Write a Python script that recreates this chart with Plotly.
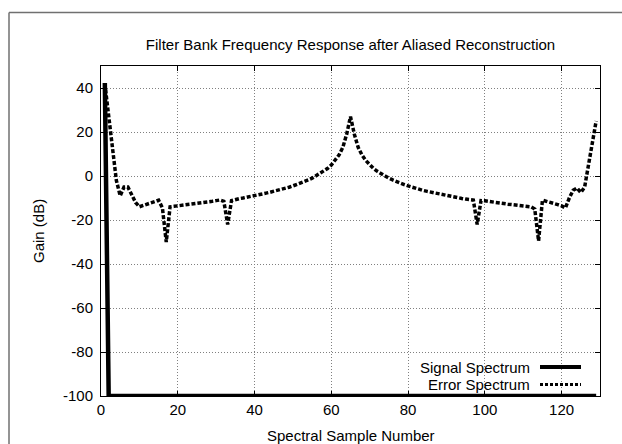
import plotly.graph_objects as go

# Spectral sample index (1..129)
sample = list(range(1, 130))

# Signal spectrum: DC bin then floor at -100 dB
signal_db = [42.3] + [-100.0] * 128

# Error spectrum (dB) per sample
error_db = [
    42, 27, 12, -2, -9, -5, -5, -8.5, -12, -14,
    -13.3, -12.8, -12.2, -11.6, -11, -14.5, -30, -14, -13.8, -13.6,
    -13.4, -13.1, -12.9, -12.7, -12.5, -12.3, -12, -11.8, -11.5, -11.2,
    -10.9, -11.5, -22, -11.2, -10.6, -10.3, -10.0, -9.7, -9.3, -9.0,
    -8.6, -8.2, -7.8, -7.4, -7.0, -6.6, -6.1, -5.6, -5.1, -4.5,
    -3.9, -3.3, -2.6, -1.8, -1.0, 0, 1, 2.1, 3.4, 5,
    7, 9.5, 13, 19, 27, 19, 13, 9.5, 7, 5,
    3.4, 2.1, 1, 0, -1, -1.8, -2.6, -3.3, -3.9, -4.5,
    -5.1, -5.6, -6.1, -6.6, -7.0, -7.4, -7.8, -8.2, -8.6, -9.0,
    -9.3, -9.6, -9.9, -10.2, -10.5, -10.7, -10.9, -22, -11.2, -11.3,
    -11.6, -11.9, -12.1, -12.3, -12.6, -12.8, -13.0, -13.2, -13.4, -13.6,
    -13.8, -14.0, -15, -29.5, -11, -11.4, -11.8, -12.3, -13, -13.6,
    -14.5, -10, -6.5, -5.5, -7.5, -5, 5, 15, 25,
]

x_ticks = [0, 20, 40, 60, 80, 100, 120]
y_ticks = [-100, -80, -60, -40, -20, 0, 20, 40]
y_tick_text = ["-100", "-80", "-60", "-40", "-20", "0", "20", "40"]

FONT = "Liberation Sans, Arial, Helvetica, sans-serif"
FS = 15

W, H = 622, 444
ML, MR, MT, MB = 101, 22, 66, 48
PW, PH = W - ML - MR, H - MT - MB

# key rows (pixel y of each entry)
KEY_Y_SIGNAL, KEY_Y_ERROR = 367, 384.5


def px_x(p):
    return (p - ML) / PW


def px_y(p):
    return (H - MB - p) / PH


fig = go.Figure()
fig.add_trace(go.Scatter(
    x=sample, y=signal_db, mode="lines", name="Signal Spectrum",
    line=dict(color="black", width=4.5), showlegend=False,
))
fig.add_trace(go.Scatter(
    x=sample, y=error_db, mode="lines", name="Error Spectrum",
    line=dict(color="black", width=3.5, dash="4px,2px"), showlegend=False,
))

axis_common = dict(
    showline=True, linecolor="black", linewidth=1, mirror="ticks",
    ticks="inside", ticklen=5, tickcolor="black", tickwidth=1,
    showgrid=True, gridcolor="#808080", gridwidth=1, griddash="1px,2px",
    zeroline=False, tickfont=dict(family=FONT, size=FS, color="black"),
)

fig.update_xaxes(range=[0, 130], tickvals=x_ticks, **axis_common)
fig.update_yaxes(range=[-100, 50], tickvals=y_ticks, ticktext=y_tick_text,
                 ticklabelstandoff=4, **axis_common)

annotations = [
    dict(text="Spectral Sample Number", x=0.5, y=px_y(436), xref="paper", yref="paper",
         showarrow=False, xanchor="center", yanchor="middle",
         font=dict(family=FONT, size=FS, color="black")),
    dict(text="Gain (dB)", x=px_x(38), y=0.5, xref="paper", yref="paper",
         showarrow=False, xanchor="center", yanchor="middle", textangle=-90,
         font=dict(family=FONT, size=FS, color="black")),
    dict(text="Signal Spectrum", x=px_x(531), y=px_y(KEY_Y_SIGNAL), xref="paper", yref="paper",
         showarrow=False, xanchor="right", yanchor="middle", borderpad=0,
         font=dict(family=FONT, size=FS, color="black")),
    dict(text="Error Spectrum", x=px_x(531), y=px_y(KEY_Y_ERROR), xref="paper", yref="paper",
         showarrow=False, xanchor="right", yanchor="middle", borderpad=0,
         font=dict(family=FONT, size=FS, color="black")),
]

shapes = [
    # key samples
    dict(type="line", xref="paper", yref="paper", x0=px_x(540), x1=px_x(581),
         y0=px_y(KEY_Y_SIGNAL), y1=px_y(KEY_Y_SIGNAL), line=dict(color="black", width=4)),
    dict(type="line", xref="paper", yref="paper", x0=px_x(540), x1=px_x(581),
         y0=px_y(KEY_Y_ERROR), y1=px_y(KEY_Y_ERROR),
         line=dict(color="black", width=3, dash="3px,2px")),
    # outer frame
    dict(type="line", xref="paper", yref="paper", x0=px_x(9), x1=px_x(640),
         y0=px_y(12.5), y1=px_y(12.5), line=dict(color="#707070", width=1.5)),
    dict(type="line", xref="paper", yref="paper", x0=px_x(9), x1=px_x(9),
         y0=px_y(12.5), y1=px_y(460), line=dict(color="#707070", width=1.5)),
]

fig.update_layout(
    width=W, height=H,
    margin=dict(l=ML, r=MR, t=MT, b=MB),
    paper_bgcolor="white", plot_bgcolor="white",
    title=dict(text="Filter Bank Frequency Response after Aliased Reconstruction",
               x=px_x(350.5), xref="paper", y=1 - 45 / H, yref="container",
               xanchor="center", yanchor="middle",
               font=dict(family=FONT, size=FS, color="black")),
    annotations=annotations,
    shapes=shapes,
    showlegend=False,
)

fig.write_html("out.html")
